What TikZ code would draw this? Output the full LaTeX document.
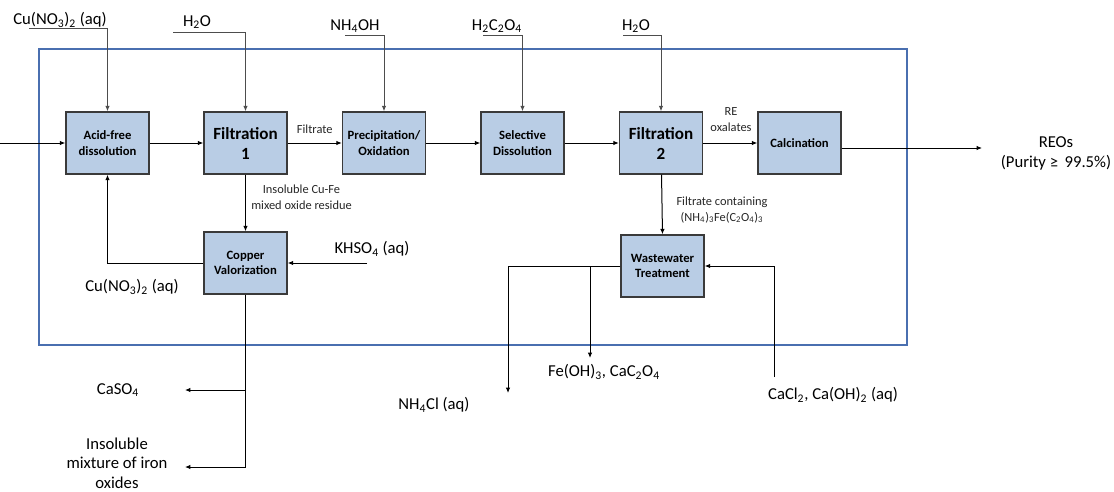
\documentclass[tikz,border=0pt]{standalone}
\usepackage{fontspec}
\setmainfont{Carlito}
\usetikzlibrary{arrows.meta}
\definecolor{boxfill}{HTML}{B9CDE5}
\definecolor{boxline}{HTML}{3A3A3A}
\definecolor{frameblue}{HTML}{4A6FB0}
\definecolor{feedgray}{HTML}{4D4D4D}
\tikzset{
  unit/.style={draw=boxline, line width=1.1pt, fill=boxfill, minimum width=62.25pt,
    minimum height=46.5pt, inner sep=1pt, align=center, font=\fontsize{9.5}{11.5}\selectfont\bfseries},
  bigunit/.style={unit, font=\fontsize{12.8}{15}\selectfont\bfseries},
  flow/.style={draw=black, line width=0.75pt, -{Latex[length=4pt,width=3.4pt]}},
  feed/.style={flow, draw=feedgray},
  line/.style={draw=black, line width=0.75pt},
  biglabel/.style={font=\fontsize{12.5}{15}\selectfont, align=center, inner sep=0pt},
  smalllabel/.style={font=\fontsize{9.3}{12}\selectfont, align=center, inner sep=0pt, text=black!85},
}
\begin{document}
\begin{tikzpicture}[x=0.75pt, y=-0.75pt]
\useasboundingbox (0,0) rectangle (1114,492);

% process boundary
\draw[frameblue, line width=1.2pt] (39,49) rectangle (907,345);

% unit operations
\node[unit]    (acid)  at (107.5,143) {Acid-free\\dissolution};
\node[bigunit] (filt1) at (245.5,143) {Filtration\\1};
\node[unit]    (prec)  at (384,143)   {Precipitation/\\Oxidation};
\node[unit]    (sel)   at (522.5,143) {Selective\\Dissolution};
\node[bigunit] (filt2) at (661,143)   {Filtration\\2};
\node[unit]    (calc)  at (799.5,143) {Calcination};
\node[unit]    (copper) at (245.5,263) {Copper\\Valorization};
\node[unit]    (ww)    at (662.5,266) {Wastewater\\Treatment};

% reagent feeds from the top
\node[biglabel] (lcu)   at (60,20)  {Cu(NO\textsubscript{3})\textsubscript{2} (aq)};
\node[biglabel] (lh2oa) at (197,22) {H\textsubscript{2}O};
\node[biglabel] (lnh)   at (355,26) {NH\textsubscript{4}OH};
\node[biglabel] (lox)   at (497,26) {H\textsubscript{2}C\textsubscript{2}O\textsubscript{4}};
\node[biglabel] (lh2ob) at (636,26) {H\textsubscript{2}O};
\coordinate (incu)   at (29,29);
\coordinate (inh2oa) at (173,33);
\coordinate (innh)   at (345,36);
\coordinate (inox)   at (483,36);
\coordinate (inh2ob) at (623,36);
\draw[feed] (incu)   -| (acid.north);
\draw[feed] (inh2oa) -| (filt1.north);
\draw[feed] (innh)   -| (prec.north);
\draw[feed] (inox)   -| (sel.north);
\draw[feed] (inh2ob) -| (filt2.north);

% main line
\coordinate (feedin) at (0,143);
\draw[flow] (feedin) -- (acid);
\draw[flow] (acid) -- (filt1);
\draw[flow] (filt1) -- (prec) node[smalllabel, midway, above=7pt] (lfiltrate) {Filtrate};
\draw[flow] (prec) -- (sel);
\draw[flow] (sel) -- (filt2);
\draw[flow] (filt2) -- (calc);
\node[smalllabel] (lre) at (731,120) {RE\\oxalates};
\coordinate (reoout) at (982,148);
\draw[flow] (calc.east |- reoout) -- (reoout);
\node[biglabel] (lreo) at (1056,153) {REOs\\(Purity ≥ \,99.5\%)};

% copper recovery loop
\draw[flow] (filt1) -- (copper);
\node[smalllabel, anchor=west] (lres) at (251,197) {Insoluble Cu-Fe\\mixed oxide residue};
\draw[flow] (copper.west) -| (acid.south);
\node[biglabel] (lcub) at (132,287) {Cu(NO\textsubscript{3})\textsubscript{2} (aq)};
\coordinate (inkh) at (367,263);
\draw[flow] (inkh) -- (copper.east);
\node[biglabel] (lkh) at (372,249) {KHSO\textsubscript{4} (aq)};

% copper unit outlets
\coordinate (cubranch) at (246,390);
\coordinate (outcaso)  at (185,390);
\coordinate (outiron)  at (185,467);
\draw[flow] (copper.south) |- (outiron);
\draw[flow] (cubranch) -- (outcaso);
\node[biglabel] (lcaso) at (118,390) {CaSO\textsubscript{4}};
\node[biglabel, font=\fontsize{12.5}{14.5}\selectfont] (liron) at (117,463) {Insoluble\\mixture of iron\\oxides};

% wastewater treatment
\draw[flow] (filt2) -- (ww.north);
\node[smalllabel] (lfc) at (722,210) {Filtrate containing\\(NH\textsubscript{4})\textsubscript{3}Fe(C\textsubscript{2}O\textsubscript{4})\textsubscript{3}};
\coordinate (wwbranch) at (590,266);
\coordinate (outnh)    at (508,393);
\coordinate (outfe)    at (590,358);
\draw[flow] (ww.west) -| (outnh);
\draw[flow] (wwbranch) -- (outfe);
\coordinate (incacl) at (774,377);
\draw[flow] (incacl) |- (ww.east);
\node[biglabel] (lnhcl) at (434,405) {NH\textsubscript{4}Cl (aq)};
\node[biglabel] (lfe)   at (604,372) {Fe(OH)\textsubscript{3}, CaC\textsubscript{2}O\textsubscript{4}};
\node[biglabel] (lcacl) at (833,395) {CaCl\textsubscript{2}, Ca(OH)\textsubscript{2} (aq)};
\end{tikzpicture}
\end{document}
